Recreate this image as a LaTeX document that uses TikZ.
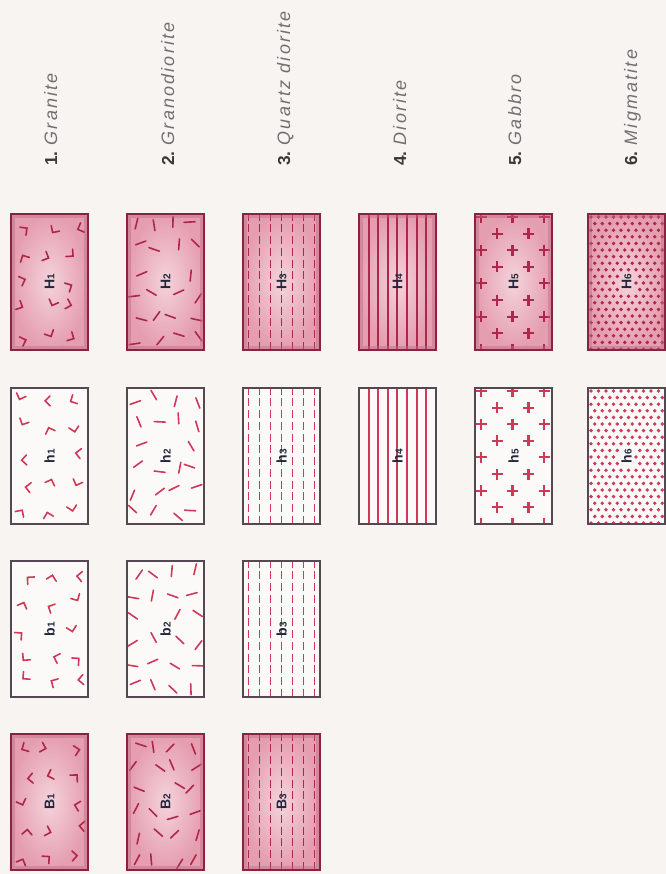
\documentclass[tikz,border=0pt]{standalone}
\usepackage{fontspec}
\setmainfont{Liberation Sans}
\newfontfamily\capfont[LetterSpace=12]{Liberation Sans}
\definecolor{paper}{HTML}{F8F4F1}
\definecolor{patcapc}{HTML}{B0264A}
\definecolor{patlowc}{HTML}{D03858}
\definecolor{darkcrimson}{HTML}{8A2242}
\definecolor{pinkin}{HTML}{F4D3DA}
\definecolor{pinkout}{HTML}{E59DB0}
\definecolor{lowedge}{HTML}{554852}
\definecolor{lowfill}{HTML}{FCFAF9}
\definecolor{ink}{HTML}{24263A}
\definecolor{captext}{HTML}{707070}
\definecolor{numtext}{HTML}{3A3A3A}
\tikzset{
  capedge/.style={draw=darkcrimson, line width=1.8pt},
  capinner/.style={draw=pinkout!60!darkcrimson, line width=2.6pt, opacity=0.45},
  lowedge/.style={draw=lowedge, line width=1.15pt},
  patcap/.style={color=patcapc},
  patlow/.style={color=patlowc},
  boxlab/.style={rotate=90, inner sep=1pt, text=ink, font=\bfseries\fontsize{10.5}{12}\selectfont},
  toplab/.style={rotate=90, anchor=base west, inner sep=0pt},
}
\newcommand\digitfont{\fontsize{7.5}{8}\selectfont}
\newcommand\numlab[1]{{\color{numtext}\bfseries\fontsize{13}{15}\selectfont #1}}
\newcommand\namelab[1]{{\color{captext}\capfont\itshape\fontsize{13.5}{15}\selectfont #1}}
% ---------- patterns: #1 x0, #2 y0, #3 seed, #4 style
\newcommand\patCarets[4]{%
  \pgfmathsetseed{#3}%
  \foreach \i in {0,1,2}{\foreach \j in {0,...,4}{%
    \pgfmathsetmacro\cx{#1+13+25.5*\i+rand*4.5}%
    \pgfmathsetmacro\cy{#2+14+27*\j+rand*5}%
    \pgfmathsetmacro\ang{rnd*360}%
    \pgfmathtruncatemacro\myskip{and(\i==1,\j==2)}%
    \ifnum\myskip=0
      \draw[#4, line width=1.2pt, line cap=round, shift={(\cx,\cy)}, rotate=\ang] (-5,-5)--(0,0)--(5,-5);
    \fi
  }}}
\newcommand\patDashes[4]{%
  \pgfmathsetseed{#3}%
  \foreach \i in {0,...,3}{\foreach \j in {0,...,5}{%
    \pgfmathsetmacro\cx{#1+10+19*\i+rand*5}%
    \pgfmathsetmacro\cy{#2+11+22.8*\j+rand*5}%
    \pgfmathsetmacro\ang{rnd*180}%
    \pgfmathtruncatemacro\myskip{and(abs(\cx-#1-38.5)<11,abs(\cy-#2-68)<14)}%
    \ifnum\myskip=0
      \draw[#4, line width=1.2pt, line cap=round, shift={(\cx,\cy)}, rotate=\ang] (-5.5,0)--(5.5,0);
    \fi
  }}}
\newcommand\patVdash[4]{%
  \foreach \k in {0,...,6}{%
    \draw[#4, line width=1.3pt, dash pattern=on 6pt off 2.8pt, dash phase=1pt] ({#1+5.5+11*\k},#2) -- ++(0,136);
  }}
\newcommand\patLines[4]{%
  \foreach \k in {1,...,7}{%
    \draw[#4, line width=1.4pt] ({#1+9.6*\k},#2) -- ++(0,136);
  }}
\newcommand\patPlus[4]{%
  \foreach \j in {0,...,8}{\foreach \i in {0,1,2}{%
    \pgfmathsetmacro\cx{#1+6+31.5*\i+mod(\j,2)*16}%
    \pgfmathsetmacro\cy{#2+3+16.6*\j}%
    \pgfmathtruncatemacro\myskip{and(abs(\cx-#1-38.5)<8,abs(\cy-#2-68)<10)}%
    \ifnum\myskip=0
      \draw[#4, line width=1.6pt] ({\cx-5.5},\cy)--({\cx+5.5},\cy) (\cx,{\cy-5.5})--(\cx,{\cy+5.5});
    \fi
  }}}
\newcommand\patDots[4]{%
  \foreach \j in {0,...,20}{\foreach \i in {0,...,10}{%
    \pgfmathsetmacro\cx{#1+3+7.5*\i+mod(\j,2)*3.75}%
    \pgfmathsetmacro\cy{#2+3+6.6*\j}%
    \pgfmathtruncatemacro\myskip{and(abs(\cx-#1-38.5)<6,abs(\cy-#2-68)<12)}%
    \ifnum\myskip=0
      \fill[#4] (\cx,\cy) circle (1.9);
    \fi
  }}}
% ---------- boxes: #1 name, #2 x0, #3 y0, #4 pattern, #5 seed, #6 letter, #7 digit
\newcommand\capbox[7]{%
  \shade[inner color=pinkin, outer color=pinkout] (#2,#3) rectangle ++(77,136);
  \begin{scope}
    \clip (#2,#3) rectangle ++(77,136);
    \csname pat#4\endcsname{#2}{#3}{#5}{patcap}
  \end{scope}
  \draw[capinner] ({#2+2.6},{#3+2.6}) rectangle ++(71.8,130.8);
  \draw[capedge] (#2,#3) rectangle ++(77,136);
  \node[boxlab] (#1) at ({#2+38.5},{#3+68}) {#6{\digitfont #7}};
}
\newcommand\lowbox[7]{%
  \fill[lowfill] (#2,#3) rectangle ++(77,136);
  \begin{scope}
    \clip (#2,#3) rectangle ++(77,136);
    \csname pat#4\endcsname{#2}{#3}{#5}{patlow}
  \end{scope}
  \draw[lowedge] (#2,#3) rectangle ++(77,136);
  \node[boxlab] (#1) at ({#2+38.5},{#3+68}) {#6{\digitfont #7}};
}
\begin{document}
\begin{tikzpicture}[x=0.75pt,y=-0.75pt]
\fill[paper] (0,0) rectangle (666,874);
\useasboundingbox (0,0) rectangle (666,874);
% top labels
\node[toplab] (lab1) at (57,166) {\numlab{1.}\hspace{0.45em}\namelab{Granite}};
\node[toplab] (lab2) at (174,166) {\numlab{2.}\hspace{0.45em}\namelab{Granodiorite}};
\node[toplab] (lab3) at (290,166) {\numlab{3.}\hspace{0.45em}\namelab{Quartz diorite}};
\node[toplab] (lab4) at (406,166) {\numlab{4.}\hspace{0.45em}\namelab{Diorite}};
\node[toplab] (lab5) at (521,166) {\numlab{5.}\hspace{0.45em}\namelab{Gabbro}};
\node[toplab] (lab6) at (637,166) {\numlab{6.}\hspace{0.45em}\namelab{Migmatite}};
% column 1 : granite
\capbox{H1}{11}{214}{Carets}{11}{H}{1}
\lowbox{h1}{11}{388}{Carets}{23}{h}{1}
\lowbox{b1}{11}{561}{Carets}{37}{b}{1}
\capbox{B1}{11}{734}{Carets}{41}{B}{1}
% column 2 : granodiorite
\capbox{H2}{127}{214}{Dashes}{53}{H}{2}
\lowbox{h2}{127}{388}{Dashes}{67}{h}{2}
\lowbox{b2}{127}{561}{Dashes}{71}{b}{2}
\capbox{B2}{127}{734}{Dashes}{83}{B}{2}
% column 3 : quartz diorite
\capbox{H3}{243}{214}{Vdash}{1}{H}{3}
\lowbox{h3}{243}{388}{Vdash}{1}{h}{3}
\lowbox{b3}{243}{561}{Vdash}{1}{b}{3}
\capbox{B3}{243}{734}{Vdash}{1}{B}{3}
% column 4 : diorite
\capbox{H4}{359}{214}{Lines}{1}{H}{4}
\lowbox{h4}{359}{388}{Lines}{1}{h}{4}
% column 5 : gabbro
\capbox{H5}{475}{214}{Plus}{1}{H}{5}
\lowbox{h5}{475}{388}{Plus}{1}{h}{5}
% column 6 : migmatite
\capbox{H6}{588}{214}{Dots}{1}{H}{6}
\lowbox{h6}{588}{388}{Dots}{1}{h}{6}
\end{tikzpicture}
\end{document}
